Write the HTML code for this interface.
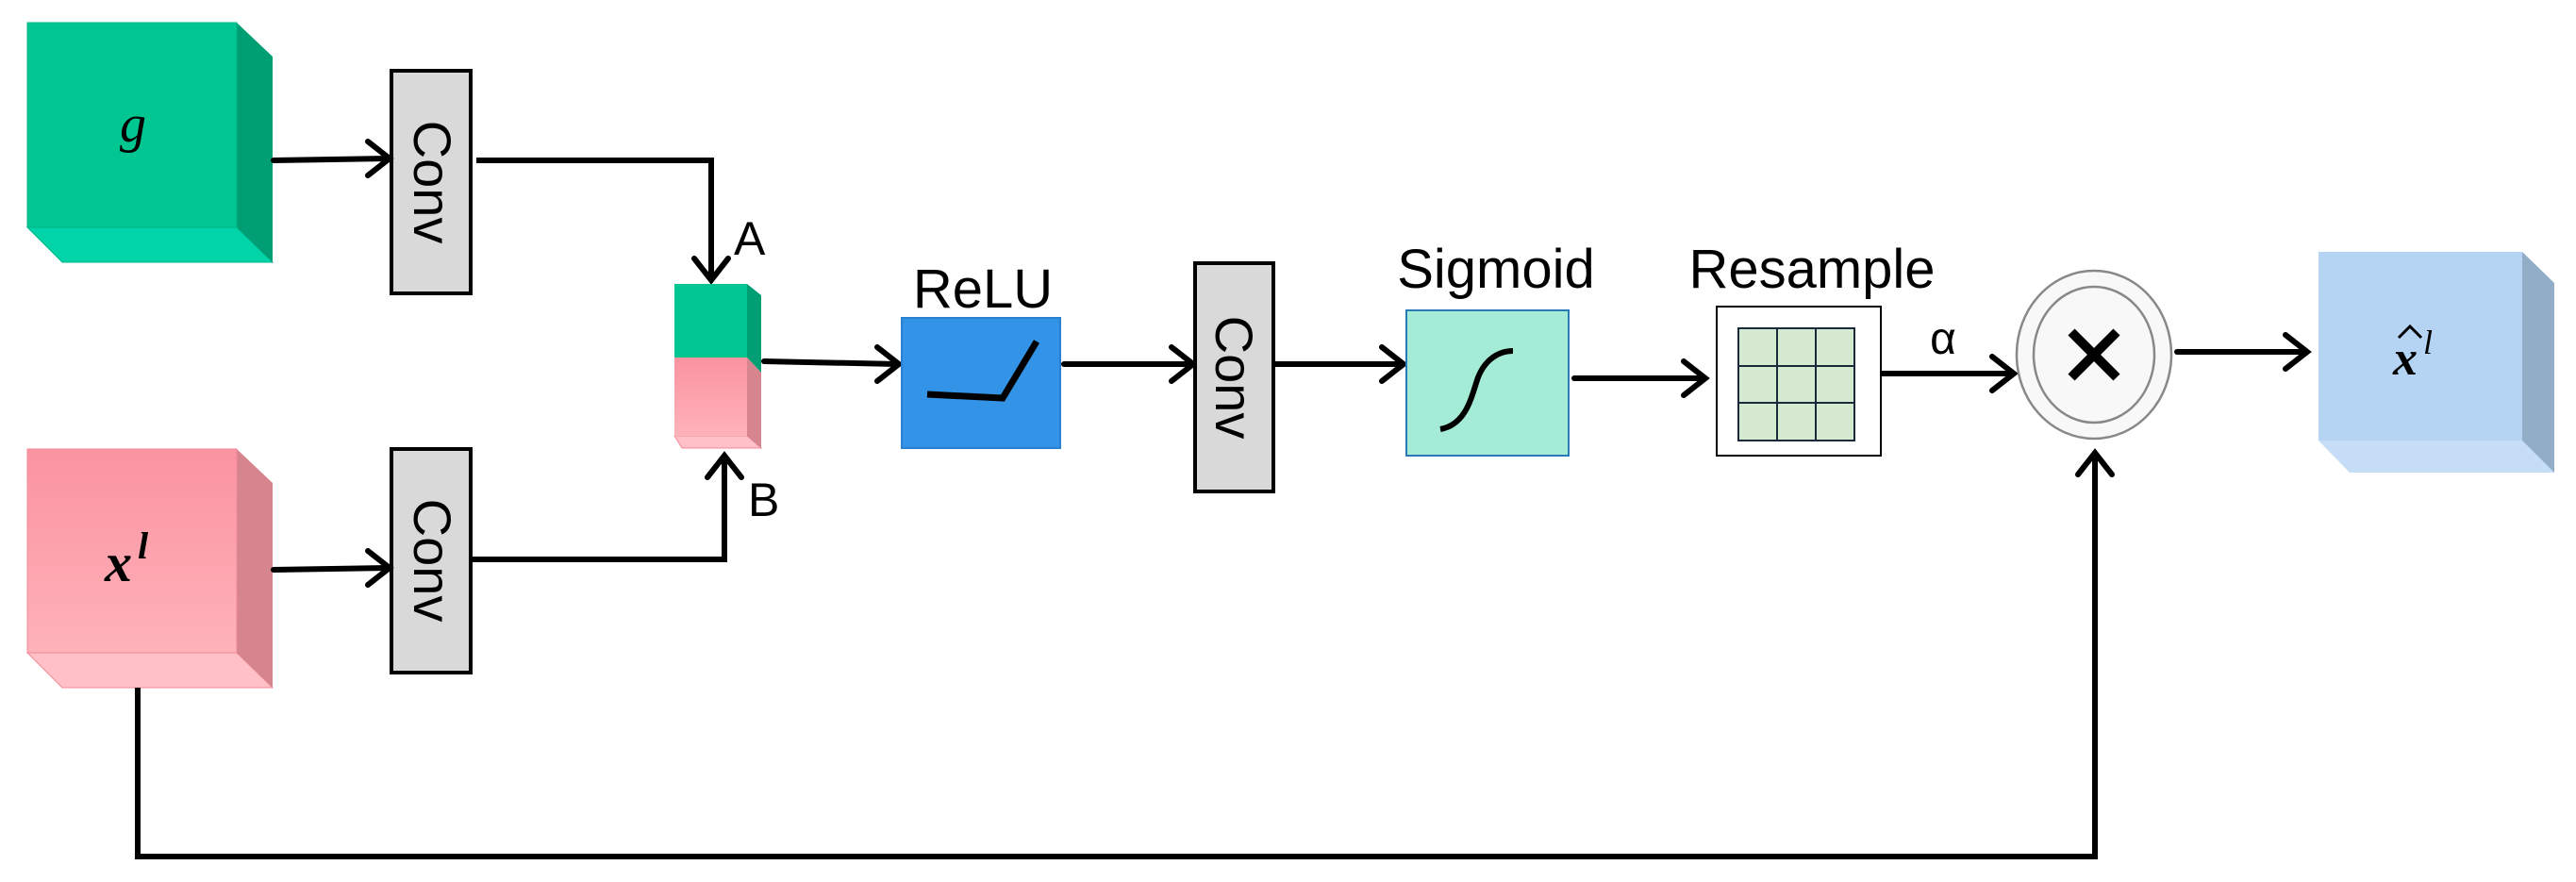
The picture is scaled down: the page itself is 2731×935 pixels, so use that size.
<!DOCTYPE html>
<html><head><meta charset="utf-8"><style>html,body{margin:0;padding:0;background:#fff}svg{display:block}</style></head><body>
<svg width="2731" height="935" viewBox="0 0 2731 935" xmlns="http://www.w3.org/2000/svg" font-family="Liberation Sans, sans-serif">
<defs>
<linearGradient id="pk" x1="0" y1="0" x2="0" y2="1"><stop offset="0" stop-color="#fb93a1"/><stop offset="1" stop-color="#feb2ba"/></linearGradient>
</defs>
<!-- green cube -->
<polygon points="29,241 251,241 289,278 66,278" fill="#00d4a8" stroke="#00b38a" stroke-width="1"/>
<polygon points="251,24 289,60 289,278 251,241" fill="#009e73"/>
<rect x="29" y="24" width="222" height="217" fill="#00c791" stroke="#00b38a" stroke-width="1"/>
<text x="141" y="150" font-family="Liberation Serif, serif" font-style="italic" font-size="56" text-anchor="middle">g</text>
<!-- pink cube -->
<polygon points="29,692 251,692 289,729 66,729" fill="#ffc0c8" stroke="#f38a98" stroke-width="1"/>
<polygon points="251,476 289,512 289,729 251,692" fill="#d6848d"/>
<rect x="29" y="476" width="222" height="216" fill="url(#pk)" stroke="#f38a98" stroke-width="1"/>
<text x="134" y="616" font-family="Liberation Serif, serif" font-style="italic" font-weight="bold" font-size="58" text-anchor="middle">x<tspan dx="6" dy="-24" font-size="40">l</tspan></text>
<!-- Conv boxes -->
<rect x="415" y="75" width="84" height="236" fill="#d9d9d9" stroke="#000" stroke-width="4"/>
<text transform="translate(439,193) rotate(90)" font-size="56" text-anchor="middle">Conv</text>
<rect x="415" y="476" width="84" height="237" fill="#d9d9d9" stroke="#000" stroke-width="4"/>
<text transform="translate(439,594) rotate(90)" font-size="56" text-anchor="middle">Conv</text>
<g fill="none" stroke="#000" stroke-width="6" stroke-linecap="round" stroke-linejoin="miter">
<!-- arrows to conv -->
<line x1="290" y1="170" x2="412" y2="168"/>
<path d="M390,150 L413,168 L390,186"/>
<line x1="290" y1="604" x2="412" y2="602"/>
<path d="M390,584 L413,602 L390,620"/>
<!-- conv to concat -->
<polyline points="505,170 754,170 754,296" stroke-linecap="butt"/>
<path d="M736,274 L754,297 L772,274"/>
<polyline points="499,593 768,593 768,484" stroke-linecap="butt"/>
<path d="M750,506 L768,483 L786,506"/>
<!-- main flow -->
<line x1="810" y1="383" x2="952" y2="386"/>
<path d="M930,368 L953,386 L930,404"/>
<line x1="1128" y1="386" x2="1264" y2="386"/>
<path d="M1242,368 L1265,386 L1242,404"/>
<line x1="1350" y1="386" x2="1487" y2="386"/>
<path d="M1465,368 L1488,386 L1465,404"/>
<line x1="1669" y1="401" x2="1807" y2="401"/>
<path d="M1785,383 L1808,401 L1785,419"/>
<line x1="1994" y1="396" x2="2134" y2="396"/>
<path d="M2112,378 L2135,396 L2112,414"/>
<line x1="2308" y1="373" x2="2445" y2="373"/>
<path d="M2423,355 L2446,373 L2423,391"/>
<!-- skip -->
<polyline points="146,729 146,908 2221,908 2221,481" stroke-linecap="butt"/>
<path d="M2203,503 L2221,480 L2239,503"/>
</g>
<text x="778" y="270" font-size="50">A</text>
<text x="793" y="547" font-size="50">B</text>
<!-- concat block -->
<polygon points="715,462 792,462 807,475 723,475" fill="#ffc0c8" stroke="#f38a98" stroke-width="1"/>
<polygon points="792,301 807,313 807,395 792,379" fill="#009e73"/>
<polygon points="792,379 807,395 807,475 792,462" fill="#d6848d"/>
<rect x="715" y="301" width="77" height="78" fill="#00c791"/>
<rect x="715" y="379" width="77" height="83" fill="url(#pk)"/>
<!-- ReLU -->
<rect x="956" y="337" width="168" height="138" fill="#3393e6" stroke="#2a7fd0" stroke-width="2"/>
<text x="1042" y="326" font-size="58" text-anchor="middle">ReLU</text>
<polyline points="983,418 1063,422 1099,362" fill="none" stroke="#000" stroke-width="7"/>
<rect x="1267" y="279" width="83" height="242" fill="#d9d9d9" stroke="#000" stroke-width="4"/>
<text transform="translate(1289,400) rotate(90)" font-size="56" text-anchor="middle">Conv</text>
<rect x="1491" y="329" width="172" height="154" fill="#a5ecd6" stroke="#2a7ab8" stroke-width="2"/>
<text x="1586" y="305" font-size="58" text-anchor="middle">Sigmoid</text>
<path d="M1527,455 C1555,450 1560,420 1567,400 C1575,380 1590,372 1604,372" fill="none" stroke="#000" stroke-width="6"/>
<rect x="1820" y="325" width="174" height="158" fill="#fff" stroke="#000" stroke-width="2"/>
<text x="1921" y="305" font-size="58" text-anchor="middle">Resample</text>
<rect x="1843" y="348" width="123" height="119" fill="#d5ead0" stroke="#1a2a3a" stroke-width="2"/>
<line x1="1884" y1="348" x2="1884" y2="467" stroke="#1a2a3a" stroke-width="2"/>
<line x1="1925" y1="348" x2="1925" y2="467" stroke="#1a2a3a" stroke-width="2"/>
<line x1="1843" y1="388" x2="1966" y2="388" stroke="#1a2a3a" stroke-width="2"/>
<line x1="1843" y1="427" x2="1966" y2="427" stroke="#1a2a3a" stroke-width="2"/>
<text x="2060" y="375" font-size="48" text-anchor="middle">α</text>
<!-- multiply -->
<ellipse cx="2220" cy="376" rx="82" ry="89" fill="#f8f8f8" stroke="#888" stroke-width="2.5"/>
<ellipse cx="2220" cy="376" rx="64" ry="72" fill="#f8f8f8" stroke="#888" stroke-width="2.5"/>
<line x1="2196" y1="352" x2="2244" y2="400" stroke="#000" stroke-width="10"/>
<line x1="2244" y1="352" x2="2196" y2="400" stroke="#000" stroke-width="10"/>
<!-- blue cube -->
<polygon points="2458,467 2674,467 2708,501 2491,501" fill="#c5ddf7"/>
<polygon points="2674,267 2708,300 2708,501 2674,467" fill="#91adc8"/>
<rect x="2458" y="267" width="216" height="200" fill="#b5d4f4"/>
<text x="2558" y="397" font-family="Liberation Serif, serif" font-style="italic" font-weight="bold" font-size="52" text-anchor="middle">x<tspan dx="6" dy="-22" font-size="36" font-weight="normal">l</tspan></text>
<path d="M2543,358 L2555,346 L2567,358" fill="none" stroke="#000" stroke-width="3"/>
</svg>
</body></html>
